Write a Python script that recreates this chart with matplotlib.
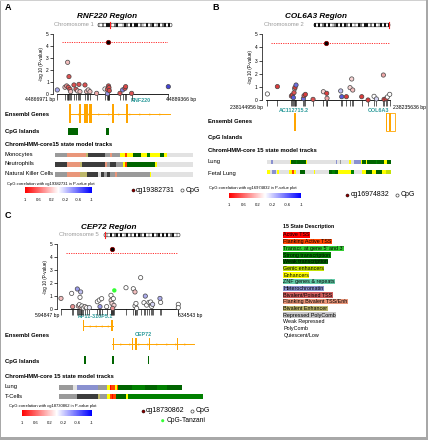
import numpy as np
import matplotlib
matplotlib.use('Agg')
import matplotlib.pyplot as plt
from matplotlib.colors import LinearSegmentedColormap, Normalize
from matplotlib.patches import Rectangle, FancyBboxPatch
from matplotlib.cm import ScalarMappable

plt.rcParams['font.family'] = ['Liberation Sans', 'DejaVu Sans']

# ---------------- data ----------------
# Panel A : RNF220 region (chr1)
a_start, a_end = 44866971, 44889366
a_pos = [44866971, 44868518, 44868854, 44869056, 44869190, 44869325, 44869527, 44869661,
         44870334, 44870737, 44871073, 44871342, 44871544, 44872553, 44872889, 44873225,
         44873562, 44874907, 44876588, 44877059, 44877100, 44877300, 44877395, 44877462,
         44879614, 44880152, 44880623, 44880757, 44881968, 44889366]
a_logp = [0.36, 0.58, 0.69, 2.64, 0.58, 1.46, 0.41, 0.22, 0.77, 0.41, 0.27, 0.82, 0.22, 0.77,
          0.22, 0.36, 0.22, 0.08, 0.44, 0.41, 0.05, 0.69, 0.55, 0.30, 0.08, 0.36, 0.49, 0.63,
          0.08, 0.63]
a_corr = [-0.4, 0.3, 0.5, 0.3, 0.8, 0.8, 0.8, 0.3, 0.8, 0.8, 0.2, 0.8, 0.3, 0.8, 0.3, 0.2,
          0.3, 0.4, 0.0, 0.8, -0.5, 0.85, 0.85, 0.85, 0.8, -0.6, 0.85, 0.85, 0.8, -0.9]
a_lead = (44877260, 4.31)
a_exons = [(44869250, 44869650), (44871400, 44871700), (44872400, 44872700), (44872850, 44873150),
           (44873400, 44874000), (44878000, 44878500), (44880850, 44881200)]
a_gene_span = (44869300, 44889714)
a_cpg_islands = [(44869130, 44871150), (44876800, 44877400)]

# Panel B : COL6A3 region (chr2)
b_start, b_end = 238144956, 238235636
b_pos = [238146175, 238153489, 238163729, 238164460, 238165191, 238165679, 238166167, 238166410,
         238167142, 238172505, 238172993, 238173968, 238179576, 238187133, 238189571, 238189800,
         238199811, 238200542, 238203956, 238206637, 238207856, 238208588, 238215170, 238219803,
         238224191, 238225898, 238231017, 238231505, 238232968, 238233943, 238235636]
b_logp = [0.46, 1.02, 0.30, 0.38, 0.18, 0.56, 0.86, 0.96, 1.14, 0.10, 0.33, 0.43, 0.05, 0.63,
          0.51, 0.13, 0.69, 0.25, 0.25, 0.94, 1.60, 0.76, 0.25, 0.0, 0.28, 0.08, 1.90, 0.05,
          0.10, 0.23, 0.43]
b_corr = [0.0, 0.9, 0.8, 0.9, -0.8, 0.8, 0.3, 0.9, -0.7, -0.7, 0.8, 0.9, 0.8, 0.2, 0.9, 0.4,
          -0.3, -0.8, 0.9, 0.2, 0.2, 0.3, 0.9, 0.9, 0.0, -0.2, 0.4, 0.9, 0.9, 0.0, 0.0]
b_lead = (238189083, 4.31)
b_ac_exons = [(238165900, 238166850)]
b_col_exons = [(238233100, 238233700), (238234100, 238234600), (238235000, 238236400)]
b_col_span = (238233100, 238239500)

# Panel C : CEP72 region (chr5)
c_start, c_end = 594847, 634543
c_pos = [594847, 598456, 598794, 600373, 600711, 601049, 601275, 601500, 601613, 601951,
         602403, 602966, 603530, 604432, 607139, 607816, 608605, 608041, 610296, 611762,
         611800, 612100, 612552, 612778, 612326, 616837, 619318, 619882, 619900, 620220,
         620446, 621800, 623378, 622927, 623829, 624618, 625182, 625520, 625858, 628339,
         628565, 634543, 634543]
c_logp = [0.80, 1.19, 0.16, 1.53, 0.21, 0.31, 0.88, 1.30, 0.10, 0.21, 0.05, 0.16, 0.08, 0.08,
          0.54, 0.67, 0.78, 0.16, 0.16, 1.04, 0.65, 0.41, 0.78, 0.26, 0.03, 1.63, 1.55, 1.30,
          0.21, 0.41, 0.03, 2.41, 0.98, 0.47, 0.28, 0.49, 0.52, 0.18, 0.34, 0.80, 0.49, 0.34,
          0.08]
c_corr = [0.3, 0.0, 0.5, -0.5, 0.2, 0.0, 0.0, -0.3, 0.3, 0.0, 0.0, 0.1, 0.0, -0.1, 0.0, 0.0,
          0.0, -0.5, 0.0, 0.0, 0.1, 0.2, 0.0, 0.2, 0.5, 0.0, 0.0, 0.3, 0.0, 0.0, 0.0, 0.0,
          -0.4, 0.0, 0.0, 0.0, 0.0, 0.0, -0.2, -0.4, 0.0, 0.0, 0.0]
c_lead = (611988, 4.64)
c_tanzania = (612890, 1.42)
c_rp11_exons = [(602200, 602600), (611700, 612000), (612150, 612500)]
c_rp11_span = (602393, 612300)
c_cep72_exons = [(612300, 612700), (618850, 619250), (620000, 620400), (624500, 624900),
                 (634100, 634500)]
c_cep72_span = (611958, 639853)
c_cpg_islands = [(602750, 603150), (611950, 612650), (624300, 624700)]

threshold = 4.3
cbar_ticks = [1, 0.6, 0.2, -0.2, -0.6, -1]

# ChromHMM tracks: breakpoints (percent of track) and states
mono_bp = [0, 8.5, 22.5, 23.7, 36.3, 40, 41.2, 47.2, 50.8, 52.1, 56.4, 62.2, 66.6, 68.5, 75.8, 78.7, 81.1, 100]
mono_st = ['RP', 'BF', 'EB', 'DK', 'RP', 'BF', 'RP', 'EN', 'TF', 'EN', 'TW', 'EN', 'TX', 'EN', 'TW', 'EN', 'QU']
neut_bp = [0, 8.5, 18.2, 19.4, 36.3, 38, 40, 44.3, 49.6, 50.8, 52.5, 72.6, 73.8, 100]
neut_st = ['DK', 'BF', 'EB', 'DK', 'BF', 'RP', 'DK', 'RP', 'EN', 'TF', 'TW', 'EN', 'QU']
nk_bp = [0, 8.5, 18.2, 23.5, 31.5, 33.2, 35.6, 38, 40, 43.6, 44.8, 69, 69.7, 100]
nk_st = ['RP', 'BF', 'EB', 'DK', 'QU', 'DK', 'RP', 'DK', 'RP', 'BF', 'RP', 'EN', 'QU']
blung_bp = [0, 2.7, 4.3, 18.4, 19.5, 23, 24.3, 31.1, 32.4, 55.4, 56.2, 58.9, 60, 66.2, 67.6, 70.3,
            75.7, 77, 79.7, 81.1, 87.8, 89.2, 94.6, 96.8, 100]
blung_st = ['QU', 'HE', 'QU', 'EN', 'TW', 'TX', 'TW', 'EN', 'QU', 'HE', 'QU', 'RP', 'QU', 'EN', 'QU',
            'HE', 'EN', 'TW', 'EN', 'TW', 'TX', 'TW', 'EN', 'TW']
bfetal_bp = [0, 2.2, 4.1, 6.8, 8.1, 9.5, 17.6, 20.3, 21.6, 23, 26.5, 30.3, 37.8, 38.9, 50, 52.7,
             54.6, 57.3, 60.8, 67.6, 70.3, 77, 79.7, 85.1, 87.8, 93.2, 95.9, 100]
bfetal_st = ['EN', 'QU', 'HE', 'QU', 'EN', 'QU', 'EN', 'TF', 'EN', 'QU', 'TW', 'QU', 'EN', 'QU',
             'TW', 'TX', 'TW', 'EN', 'EN', 'TX', 'QU', 'EN', 'TW', 'EN', 'TW', 'EN', 'EG']
clung_bp = [0, 9.7, 12.5, 27.1, 33.3, 35.2, 36.1, 38.7, 39.8, 41, 50.2, 59.5, 67.6, 74.5, 85]
clung_st = ['RP', 'QU', 'HE', 'RP', 'EN', 'TA', 'TF', 'EN', 'TF', 'TW', 'TX', 'TW', 'TX', 'TW']
ctcell_bp = [0, 12, 27.1, 28.2, 33.3, 35.2, 36.3, 37.5, 39.4, 46.3, 47.5, 100]
ctcell_st = ['RP', 'DK', 'EB', 'RP', 'EN', 'TF', 'TA', 'TF', 'TW', 'EN', 'TX']

state_colors = {'TA': '#ff0000', 'TF': '#ff4500', 'TG': '#32cd32', 'TX': '#008000', 'TW': '#006400',
                'EG': '#c2e105', 'EN': '#ffff00', 'ZN': '#66cdaa', 'HE': '#8a91d0', 'TB': '#cd5c5c',
                'BF': '#e9967a', 'EB': '#bdb76b', 'RP': '#9a9a9a', 'DK': '#3c3c3c', 'QU': '#e2e2e2'}

legend_labels = ['Active TSS', 'Flanking Active TSS', "Transcr. at gene 5' and 3'",
                 'Strong transcription', 'Weak transcription', 'Genic enhancers', 'Enhancers',
                 'ZNF genes & repeats', 'Heterochromatin', 'Bivalent/Poised TSS',
                 'Flanking Bivalent TSS/Enh', 'Bivalent Enhancer', 'Repressed PolyComb',
                 'Weak Repressed', 'PolyComb', 'Quiescent/Low']
legend_colors = ['#ff0000', '#ff4500', '#32cd32', '#008000', '#006400', '#c2e105', '#ffff00',
                 '#66cdaa', '#8a91d0', '#cd5c5c', '#e9967a', '#bdb76b', '#c8c8c8', 'none',
                 'none', 'none']

# ---------------- figure ----------------
W, H = 428, 440
fig = plt.figure(figsize=(W / 100, H / 100), dpi=100)


def px_axes(x0, y0, x1, y1):
    return fig.add_axes([x0 / W, 1 - y1 / H, (x1 - x0) / W, (y1 - y0) / H])


bg = px_axes(0, 0, W, H)
bg.set_xlim(0, W)
bg.set_ylim(H, 0)
bg.axis('off')

cmap = LinearSegmentedColormap.from_list('corr', [(0, '#0000ff'), (0.5, '#ffffff'), (1, '#ff0000')])
norm = Normalize(-1, 1)
pt_cmap = LinearSegmentedColormap.from_list('ptcorr', [(0, '#3030d0'), (0.5, '#ffffff'), (1, '#d62828')])
GENE_C = '#ffa500'
TEAL = '#2a9a9a'


def T(x, y, s, size=4.2, **kw):
    kw.setdefault('va', 'center')
    kw.setdefault('ha', 'left')
    return bg.text(x, y, s, fontsize=size, **kw)


def scatter_panel(box, start, end, pos, logp, corr, lead, extra=None):
    ax = px_axes(*box)
    ax.set_xlim(start, end)
    ax.set_ylim(0, 5)
    ax.patch.set_alpha(0)
    for sp in ['top', 'right']:
        ax.spines[sp].set_visible(False)
    ax.spines['left'].set_position(('outward', 3))
    ax.spines['left'].set_linewidth(0.5)
    ax.spines['bottom'].set_linewidth(0.6)
    ax.set_yticks(range(6))
    ax.tick_params(axis='y', length=2, width=0.5, labelsize=3.5, pad=1)
    ticks = sorted(list(pos) + [lead[0]])
    ax.set_xticks(ticks)
    ax.tick_params(axis='x', length=4.5, width=0.5, labelbottom=False, color='#222222')
    for t, tv in zip(ax.xaxis.get_major_ticks(), ticks):
        if tv == lead[0]:
            t.tick1line.set_color('#9932cc')
    ax.set_ylabel('-log 10 (P-value)', fontsize=3.3, labelpad=1.5)
    ax.axhline(threshold, xmin=0.04, xmax=1, color='#ff3030', ls=(0, (1.2, 1.2)), lw=0.7)
    ax.scatter(pos, logp, c=[pt_cmap(norm(r)) for r in corr], s=9.5, edgecolors='#444444',
               linewidths=0.5, clip_on=False, zorder=3)
    ax.scatter([lead[0]], [lead[1]], c='black', s=9.5, edgecolors='#8b0000', linewidths=0.6,
               clip_on=False, zorder=4)
    if extra is not None:
        ax.scatter([extra[0]], [extra[1]], c='#33ff33', s=10, edgecolors='none', clip_on=False,
                   zorder=4)
    return ax


def gene_axes(box, start, end):
    ax = px_axes(*box)
    ax.set_xlim(start, end)
    ax.set_ylim(box[3], box[1])
    ax.axis('off')
    return ax


def draw_gene(ax, exons, span, y0, y1, strand='+', n_arrows=7, line=True):
    ym = (y0 + y1) / 2
    if line:
        ax.plot(span, [ym, ym], color=GENE_C, lw=0.7, clip_on=False)
        xs = np.linspace(span[0], span[1], n_arrows + 2)[1:-1]
        ax.plot(xs, [ym] * len(xs), ls='none', marker='>' if strand == '+' else '<',
                ms=1.6, mew=0, color=GENE_C, clip_on=False)
    for s, e in exons:
        ax.add_patch(Rectangle((s, y0), e - s, y1 - y0, color=GENE_C, lw=0, clip_on=False))


def draw_islands(ax, islands, y0, y1):
    for s, e in islands:
        ax.add_patch(Rectangle((s, y0), e - s, y1 - y0, color='#006400', lw=0, clip_on=False))


def track_axes(box, rows):
    ax = px_axes(*box)
    ax.set_xlim(0, 100)
    ax.set_ylim(box[3], box[1])
    ax.axis('off')
    for (bps, sts, yc, h) in rows:
        segs = [(bps[i], bps[i + 1] - bps[i]) for i in range(len(sts))]
        ax.broken_barh(segs, (yc - h / 2, h), facecolors=[state_colors[s] for s in sts],
                       edgecolor='none')
    return ax


def colorbar(box, label, lx, ly):
    cax = px_axes(*box)
    cb = fig.colorbar(ScalarMappable(norm=norm, cmap=cmap), cax=cax, orientation='horizontal',
                      ticks=cbar_ticks)
    cax.invert_xaxis()
    cb.outline.set_visible(False)
    cax.tick_params(length=0, labelsize=3.0, pad=3.5)
    cax.set_xticklabels(['%g' % t for t in cbar_ticks])
    T(lx, ly, label, size=3.0)


def ideogram(x0, x1, y, pattern, mark_x):
    shade = {'w': '#ffffff', 'l': '#c8c8c8', 'g': '#808080', 'k': '#111111'}
    n = len(pattern)
    bw = (x1 - x0) / n
    h = 3.6
    for i, ch in enumerate(pattern):
        bg.add_patch(Rectangle((x0 + i * bw, y - h / 2), bw, h, fc=shade[ch], ec='none'))
    bg.add_patch(FancyBboxPatch((x0, y - h / 2), x1 - x0, h, boxstyle='round,pad=0,rounding_size=1.5',
                                fc='none', ec='#222222', lw=0.4))
    bg.plot([mark_x, mark_x], [y - h / 2 - 0.8, y + h / 2 + 0.8], color='#ff2020', lw=0.8)


def legend_items(x, y, lead_name):
    bg.scatter([x], [y], s=5, c='#8b0000', edgecolors='black', linewidths=0.3)
    T(x + 3.5, y, lead_name, size=5.0)
    bg.scatter([x + 49.5], [y], s=5, c='white', edgecolors='#444444', linewidths=0.5)
    T(x + 53, y, 'CpG', size=5.0)


# ---------- Panel A ----------
T(5, 7, 'A', size=6.5, weight='bold')
T(107, 16.7, 'RNF220 Region', size=5.9, weight='bold', style='italic', ha='center')
T(74, 25, 'Chromosome 1', size=4.2, color='#9a9a9a', ha='center')
ideogram(98, 172, 25, 'lwgwkklwgkwwlkgwkwkkwglwkwgkwlkwgkwkw', 110.5)
axA = scatter_panel((57.3, 33.7, 168.3, 94.3), a_start, a_end, a_pos, a_logp, a_corr, a_lead)
T(55.5, 100, '%d bp' % a_start, size=3.7, ha='right')
T(166.5, 100, '%d bp' % a_end, size=3.7)
T(131, 100.5, 'RNF220', size=3.9, color=TEAL, weight='bold')
gA = gene_axes((57.3, 102, 168.3, 140), a_start, a_end)
draw_gene(gA, a_exons, a_gene_span, 104.5, 123.5, '+', 9)
draw_islands(gA, a_cpg_islands, 128, 135)
T(5, 115, 'Ensembl Genes', weight='bold')
T(5, 131.7, 'CpG Islands', weight='bold')
T(5, 144.3, 'ChromHMM-core15 state model tracks', weight='bold')
T(5, 154.5, 'Monocytes')
T(5, 163.8, 'Neutrophils')
T(5, 173.5, 'Natural Killer Cells')
track_axes((55, 150, 193, 180), [(mono_bp, mono_st, 155.0, 4.7), (neut_bp, neut_st, 164.3, 4.7),
                                 (nk_bp, nk_st, 174.2, 4.7)])
colorbar((25, 187.3, 91.7, 192.7), 'CpG correlation with cg19382731 in P-value plot', 7, 184)
legend_items(132.7, 190, 'cg19382731')

# ---------- Panel B ----------
T(212, 7, 'B', size=6.5, weight='bold')
T(316.5, 17, 'COL6A3 Region', size=5.9, weight='bold', style='italic', ha='center')
T(283.7, 25, 'Chromosome 2', size=4.2, color='#9a9a9a', ha='center')
ideogram(314, 390, 25, 'kwkwgkwkwlgkwkwkgwkwlwkgwkkwgwkwlkwkwk', 389)
axB = scatter_panel((265.7, 34.3, 389.7, 100), b_start, b_end, b_pos, b_logp, b_corr, b_lead)
T(263.5, 107, '%d bp' % b_start, size=3.7, ha='right')
T(393.5, 107, '%d bp' % b_end, size=3.7)
T(294, 110, 'AC112715.2', size=3.9, color=TEAL, weight='bold', ha='center')
T(379, 110, 'COL6A3', size=3.9, color=TEAL, weight='bold', ha='center')
gB = gene_axes((265.7, 112, 389.7, 140), b_start, b_end)
draw_gene(gB, b_ac_exons, None, 113, 131, line=False)
draw_gene(gB, b_col_exons, None, 113, 131, line=False)
gB.add_patch(Rectangle((b_col_span[0], 113), b_col_span[1] - b_col_span[0], 18, fc='none',
                       ec=GENE_C, lw=0.6, clip_on=False))
T(208, 121.7, 'Ensembl Genes', weight='bold')
T(208, 137.3, 'CpG Islands', weight='bold')
T(208, 150.7, 'ChromHMM-core 15 state model tracks', weight='bold')
T(208, 162, 'Lung')
T(208, 173, 'Fetal Lung')
track_axes((267.3, 155, 390.7, 180), [(blung_bp, blung_st, 162.2, 4.4),
                                      (bfetal_bp, bfetal_st, 172.2, 4.4)])
colorbar((229, 192.7, 301.3, 198.3), 'CpG correlation with cg16974832 in P-value plot', 209, 188.3)
legend_items(347.3, 195, 'cg16974832')

# ---------- Panel C ----------
T(5, 215, 'C', size=6.5, weight='bold')
T(108.3, 227.3, 'CEP72 Region', size=5.9, weight='bold', style='italic', ha='center')
T(78.7, 235, 'Chromosome 5', size=4.2, color='#9a9a9a', ha='center')
ideogram(104, 180, 235, 'wlwkwgkwkwlkwgwkwkgwkwlwkwgkwkwkwgkwlw', 105)
axC = scatter_panel((61, 244.3, 178.3, 308.7), c_start, c_end, c_pos, c_logp, c_corr, c_lead,
                    extra=c_tanzania)
T(59, 315, '%d bp' % c_start, size=3.7, ha='right')
T(178, 315, '%d bp' % c_end, size=3.7)
T(95, 317, 'RP11-310P5.1', size=3.9, color=TEAL, weight='bold', ha='center')
T(143.3, 335, 'CEP72', size=3.9, color=TEAL, weight='bold', ha='center')
gC = gene_axes((61, 318, 178.3, 368), c_start, c_end)
draw_gene(gC, c_rp11_exons, c_rp11_span, 320, 331.5, '-', 4)
draw_gene(gC, c_cep72_exons, c_cep72_span, 338, 350.5, '+', 8)
draw_islands(gC, c_cpg_islands, 356, 364)
T(5, 335.7, 'Ensembl Genes', weight='bold')
T(5, 361, 'CpG Islands', weight='bold')
T(5, 376, 'ChromHMM-core 15 state model tracks', weight='bold')
T(5, 386.5, 'Lung')
T(5, 396, 'T-Cells')
track_axes((59.3, 380, 203.3, 402), [(clung_bp, clung_st, 387.5, 4.8),
                                     (ctcell_bp, ctcell_st, 396.4, 4.8)])
colorbar((21.7, 410, 91.7, 416), 'CpG correlation with cg18730862 in P-value plot', 9, 405.7)
legend_items(142.7, 410.7, 'cg18730862')
clipC = px_axes(0, 400, 204.5, 430)
clipC.set_xlim(0, 204.5)
clipC.set_ylim(430, 400)
clipC.axis('off')
clipC.scatter([162.7], [420.7], s=5, c='#33ff33', edgecolors='none', clip_on=False)
clipC.text(167, 420.7, 'CpG-Tanzania', fontsize=4.8, va='center', ha='left', clip_on=True)

# ---------- 15 state description ----------
T(283.3, 226.7, '15 State Description', size=3.8, weight='bold')
for i, (lab, col) in enumerate(zip(legend_labels, legend_colors)):
    kw = {}
    if col != 'none':
        kw['bbox'] = dict(boxstyle='square,pad=0.03', fc=col, ec='none')
    T(283.3, 235 + i * 6.67, lab, size=3.9, **kw)

# ---------- frame ----------
bg.add_patch(Rectangle((0, 0), 1.3, H, fc='#a8a8a8', ec='none'))
bg.add_patch(Rectangle((0, 0), W, 0.8, fc='#d0d0d0', ec='none'))
bg.add_patch(Rectangle((425.6, 0), 2.4, H, fc='#a8a8a8', ec='none'))
bg.add_patch(Rectangle((0, 437.4), W, 2.6, fc='#a8a8a8', ec='none'))

fig.savefig('out.png', dpi=100)
